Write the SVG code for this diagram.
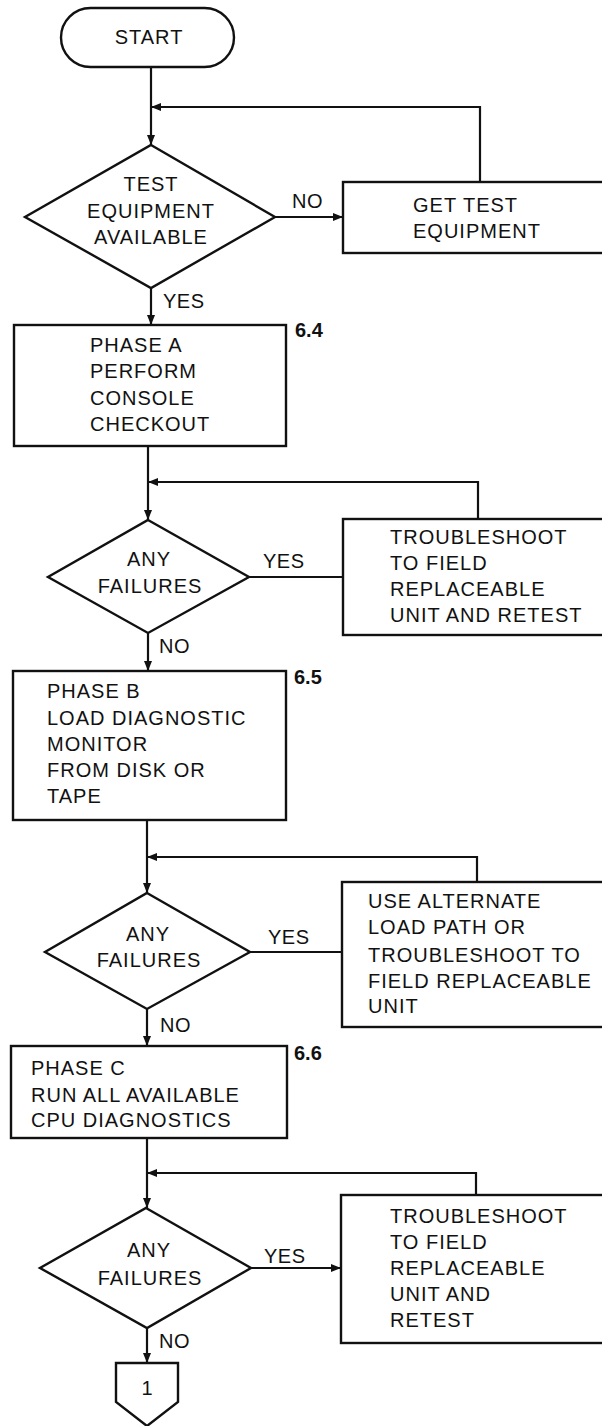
<svg xmlns="http://www.w3.org/2000/svg" width="602" height="1426" viewBox="0 0 602 1426">
<style>
.s{fill:#fff;stroke:#111;stroke-width:2.4}
.c{fill:none;stroke:#111;stroke-width:2.2}
text{font-family:"Liberation Sans",Arial,sans-serif;font-size:20px;fill:#111;letter-spacing:1px}
.m{text-anchor:middle}
.r{font-weight:bold;letter-spacing:0}
.l{letter-spacing:0.5px}
</style>
<defs>
<marker id="a" viewBox="0 0 10 8" refX="10" refY="4" markerWidth="10" markerHeight="8" markerUnits="userSpaceOnUse" orient="auto"><path d="M0,0 L10,4 L0,8 Z" fill="#111"/></marker>
</defs>
<rect width="602" height="1426" fill="#fff"/>
<g id="connectors">
<path class="c" d="M151,67 V145" marker-end="url(#a)"/>
<path class="c" d="M480,182 V107 H151" marker-end="url(#a)"/>
<path class="c" d="M275,217 H343" marker-end="url(#a)"/>
<path class="c" d="M151,288 V325" marker-end="url(#a)"/>
<path class="c" d="M148,446 V520" marker-end="url(#a)"/>
<path class="c" d="M478,519 V482 H148" marker-end="url(#a)"/>
<path class="c" d="M249,577 H343"/>
<path class="c" d="M148,633 V671" marker-end="url(#a)"/>
<path class="c" d="M147,820 V893" marker-end="url(#a)"/>
<path class="c" d="M477,882 V857 H147" marker-end="url(#a)"/>
<path class="c" d="M250,952 H342"/>
<path class="c" d="M147,1009 V1046" marker-end="url(#a)"/>
<path class="c" d="M147,1138 V1208" marker-end="url(#a)"/>
<path class="c" d="M476,1195 V1173 H147" marker-end="url(#a)"/>
<path class="c" d="M251,1268 H341" marker-end="url(#a)"/>
<path class="c" d="M147,1328 V1363" marker-end="url(#a)"/>
<text x="292" y="208" class="l">NO</text>
<text x="163" y="308" class="l">YES</text>
<text x="263" y="568" class="l">YES</text>
<text x="159" y="653" class="l">NO</text>
<text x="268" y="944" class="l">YES</text>
<text x="160" y="1032" class="l">NO</text>
<text x="264" y="1263" class="l">YES</text>
<text x="159" y="1348" class="l">NO</text>
</g>
<g id="start">
<rect class="s" x="61" y="8" width="173" height="59" rx="29.5"/>
<text x="149" y="44" class="m">START</text>
</g>
<g id="d1">
<polygon class="s" points="151,145 275,217 151,288 25,217"/>
<text x="151" y="191" class="m">TEST</text>
<text x="151" y="218" class="m">EQUIPMENT</text>
<text x="151" y="244" class="m">AVAILABLE</text>
</g>
<g id="getequip">
<rect class="s" x="343" y="182" width="270" height="71"/>
<text x="413" y="212">GET TEST</text>
<text x="413" y="238">EQUIPMENT</text>
</g>
<g id="phaseA">
<rect class="s" x="14" y="325" width="272" height="121"/>
<text x="90" y="352">PHASE A</text>
<text x="90" y="378">PERFORM</text>
<text x="90" y="405">CONSOLE</text>
<text x="90" y="431">CHECKOUT</text>
<text x="295" y="337" class="r">6.4</text>
</g>
<g id="d2">
<polygon class="s" points="148,520 249,577 148,633 48,577"/>
<text x="149" y="566" class="m">ANY</text>
<text x="150" y="593" class="m">FAILURES</text>
</g>
<g id="ts1">
<rect class="s" x="343" y="519" width="270" height="116"/>
<text x="390" y="544">TROUBLESHOOT</text>
<text x="390" y="570">TO FIELD</text>
<text x="390" y="596">REPLACEABLE</text>
<text x="390" y="622">UNIT AND  RETEST</text>
</g>
<g id="phaseB">
<rect class="s" x="13" y="671" width="273" height="149"/>
<text x="47" y="698">PHASE B</text>
<text x="47" y="725">LOAD DIAGNOSTIC</text>
<text x="47" y="751">MONITOR</text>
<text x="47" y="777">FROM DISK OR</text>
<text x="47" y="803">TAPE</text>
<text x="294" y="684" class="r">6.5</text>
</g>
<g id="d3">
<polygon class="s" points="147,893 250,952 147,1009 45,952"/>
<text x="148" y="941" class="m">ANY</text>
<text x="149" y="967" class="m">FAILURES</text>
</g>
<g id="altload">
<rect class="s" x="342" y="882" width="271" height="145"/>
<text x="368" y="908">USE ALTERNATE</text>
<text x="368" y="934">LOAD PATH OR</text>
<text x="368" y="962">TROUBLESHOOT TO</text>
<text x="368" y="988">FIELD REPLACEABLE</text>
<text x="368" y="1013">UNIT</text>
</g>
<g id="phaseC">
<rect class="s" x="11" y="1046" width="276" height="92"/>
<text x="31" y="1075">PHASE C</text>
<text x="31" y="1102">RUN ALL AVAILABLE</text>
<text x="31" y="1127">CPU DIAGNOSTICS</text>
<text x="294" y="1060" class="r">6.6</text>
</g>
<g id="d4">
<polygon class="s" points="146,1208 251,1268 147,1328 40,1268"/>
<text x="149" y="1257" class="m">ANY</text>
<text x="150" y="1285" class="m">FAILURES</text>
</g>
<g id="ts2">
<rect class="s" x="341" y="1195" width="272" height="148"/>
<text x="390" y="1223">TROUBLESHOOT</text>
<text x="390" y="1249">TO FIELD</text>
<text x="390" y="1275">REPLACEABLE</text>
<text x="390" y="1301">UNIT AND</text>
<text x="390" y="1327">RETEST</text>
</g>
<g id="offpage">
<polygon class="s" points="116,1363 178,1363 178,1402 147,1426 116,1402"/>
<text x="147" y="1395" class="m" style="letter-spacing:0">1</text>
</g>
</svg>
